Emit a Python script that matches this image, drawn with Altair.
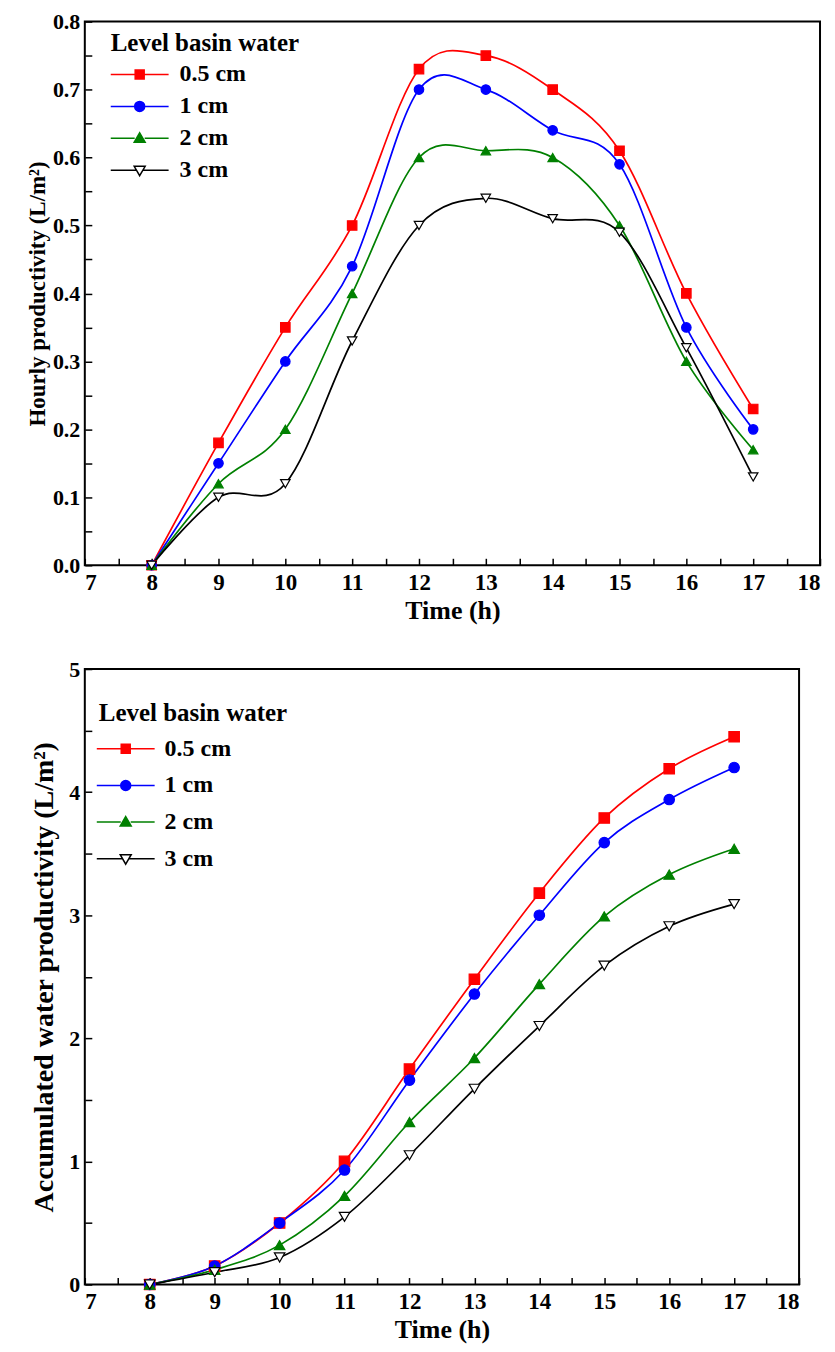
import altair as alt
import pandas as pd

HOURS = [8, 9, 10, 11, 12, 13, 14, 15, 16, 17]
SERIES = ["0.5 cm", "1 cm", "2 cm", "3 cm"]

# Hourly productivity (L/m2)
HOURLY_05 = [0.0, 0.18, 0.35, 0.50, 0.73, 0.75, 0.70, 0.61, 0.40, 0.23]
HOURLY_1 = [0.0, 0.15, 0.30, 0.44, 0.70, 0.70, 0.64, 0.59, 0.35, 0.20]
HOURLY_2 = [0.0, 0.12, 0.20, 0.40, 0.60, 0.61, 0.60, 0.50, 0.30, 0.17]
HOURLY_3 = [0.0, 0.10, 0.12, 0.33, 0.50, 0.54, 0.51, 0.49, 0.32, 0.13]

# Accumulated water productivity (L/m2)
ACC_05 = [0.0, 0.15, 0.50, 1.00, 1.75, 2.48, 3.18, 3.79, 4.19, 4.45]
ACC_1 = [0.0, 0.15, 0.50, 0.93, 1.66, 2.36, 3.00, 3.59, 3.94, 4.20]
ACC_2 = [0.0, 0.12, 0.32, 0.72, 1.32, 1.84, 2.44, 2.99, 3.33, 3.54]
ACC_3 = [0.0, 0.10, 0.22, 0.55, 1.05, 1.59, 2.10, 2.59, 2.91, 3.09]

X_TICKS = [7, 8, 9, 10, 11, 12, 13, 14, 15, 16, 17, 18]
X_MINOR = [7, 7.5, 8, 8.5, 9, 9.5, 10, 10.5, 11, 11.5, 12, 12.5, 13, 13.5,
           14, 14.5, 15, 15.5, 16, 16.5, 17, 17.5, 18]
Y1_TICKS = [0.0, 0.1, 0.2, 0.3, 0.4, 0.5, 0.6, 0.7, 0.8]
Y1_MINOR = [0.0, 0.05, 0.1, 0.15, 0.2, 0.25, 0.3, 0.35, 0.4, 0.45, 0.5,
            0.55, 0.6, 0.65, 0.7, 0.75, 0.8]
Y2_TICKS = [0, 1, 2, 3, 4, 5]
Y2_MINOR = [0, 0.5, 1, 1.5, 2, 2.5, 3, 3.5, 4, 4.5, 5]

COLORS = ["#ff0000", "#0000ff", "#008000", "#000000"]
FILLS = ["#ff0000", "#0000ff", "#008000", "#ffffff"]
SHAPES = ["square", "circle", "triangle-up", "triangle-down"]
LEGEND_PATHS = [
    "M-5.8,0H-0.9M0.9,0H5.8M-0.9,-0.9H0.9V0.9H-0.9Z",
    "M-5.8,0H-1M1,0H5.8M-1,0A1,1,0,1,0,1,0A1,1,0,1,0,-1,0Z",
    "M-5.8,0H-1M1,0H5.8M0,-1.1L1.1,0.8L-1.1,0.8Z",
    "M-5.8,0H-0.64M0.64,0H5.8M0,1.1L1.1,-0.8L-1.1,-0.8Z",
]

FONT = "Liberation Serif"


def long_table(cols):
    rows = []
    for name, vals in zip(SERIES, cols):
        for h, v in zip(HOURS, vals):
            rows.append({"hour": h, "value": v, "series": name})
    return pd.DataFrame(rows)


def panel(df, ytitle, ytsize, ytpad, ydomain, ymajor, yminor, yfmt, W, H, msize,
          legx, legy, legtp, legrow, symoff, laboff):
    base = alt.Chart(df)
    xs = alt.Scale(domain=[7, 18], nice=False, zero=False)
    ys = alt.Scale(domain=ydomain, nice=False, zero=False)
    lines = base.mark_line(interpolate="cardinal", strokeWidth=1.7).encode(
        x=alt.X("hour:Q", scale=xs, axis=alt.Axis(
            title="Time (h)", values=X_TICKS, format="d", ticks=False,
            grid=False, domain=False, labelPadding=6, titlePadding=3,
            labelFontSize=23, titleFontSize=26)),
        y=alt.Y("value:Q", scale=ys, axis=alt.Axis(
            title=ytitle, values=ymajor, format=yfmt, ticks=False,
            grid=False, domain=False, labelPadding=5, titlePadding=ytpad,
            labelFontSize=22, titleFontSize=ytsize, titleLimit=800)),
        color=alt.Color("series:N", scale=alt.Scale(domain=SERIES, range=COLORS),
                        legend=None),
    )
    points = base.mark_point(size=msize, strokeWidth=1.2, opacity=1).encode(
        x=alt.X("hour:Q", scale=xs, axis=alt.Axis(
            orient="top", offset=-H, labels=False, domain=False, grid=False,
            values=X_MINOR, tickSize=7, tickWidth=1.5, tickColor="black",
            title=None)),
        y=alt.Y("value:Q", scale=ys, axis=alt.Axis(
            orient="right", offset=-W, labels=False, domain=False, grid=False,
            values=yminor, tickSize=7, tickWidth=1.5, tickColor="black",
            title=None)),
        shape=alt.Shape("series:N", scale=alt.Scale(domain=SERIES, range=SHAPES),
                        legend=None),
        fill=alt.Fill("series:N", scale=alt.Scale(domain=SERIES, range=FILLS),
                      legend=None),
        stroke=alt.Stroke("series:N", scale=alt.Scale(domain=SERIES, range=COLORS),
                          legend=None),
    )

    def leg():
        return alt.Legend(
            title="Level basin water", orient="none", legendX=legx, legendY=legy,
            padding=0, titleFont=FONT, titleFontSize=25, titleFontWeight="bold",
            titleColor="black", titlePadding=legtp, titleLimit=500,
            labelFont=FONT, labelLimit=300,
            labelFontSize=24, labelFontWeight="bold", labelColor="black",
            symbolSize=100, symbolStrokeWidth=1.5, symbolOffset=symoff,
            labelOffset=laboff, rowPadding=legrow)

    legend_layer = base.transform_filter("false").mark_point(
        size=100, opacity=1).encode(
        x=alt.X("hour:Q", scale=xs, axis=None),
        y=alt.Y("value:Q", scale=ys, axis=None),
        shape=alt.Shape("series:N", scale=alt.Scale(domain=SERIES, range=LEGEND_PATHS),
                        legend=leg()),
        fill=alt.Fill("series:N", scale=alt.Scale(domain=SERIES, range=FILLS),
                      legend=leg()),
        stroke=alt.Stroke("series:N", scale=alt.Scale(domain=SERIES, range=COLORS),
                          legend=leg()),
    )
    return alt.layer(lines, points, legend_layer).resolve_scale(
        shape="independent", fill="independent", stroke="independent",
        color="independent").resolve_axis(
        x="independent", y="independent").properties(width=W, height=H)


top = panel(long_table([HOURLY_05, HOURLY_1, HOURLY_2, HOURLY_3]),
            "Hourly productivity (L/m²)", 23, 3, [0, 0.8], Y1_TICKS, Y1_MINOR, ".1f",
            737, 545, 90, 26, 9, 7, 8, 17, 28)
bottom = panel(long_table([ACC_05, ACC_1, ACC_2, ACC_3]),
               "Accumulated water productivity (L/m²)", 28, 10, [0, 5], Y2_TICKS,
               Y2_MINOR, "d", 716, 617, 110, 14, 32, 11, 12.7, 15, 27)

chart = alt.vconcat(top, bottom, spacing=33).properties(
    padding={"left": 17, "top": 0, "right": 5, "bottom": 5}
).configure_view(stroke="black", strokeWidth=2).configure_axis(
    labelFont=FONT, titleFont=FONT, labelFontWeight="bold",
    titleFontWeight="bold", labelColor="black", titleColor="black"
)

chart.save("out.html", embed_options={"renderer": "svg", "actions": False})
